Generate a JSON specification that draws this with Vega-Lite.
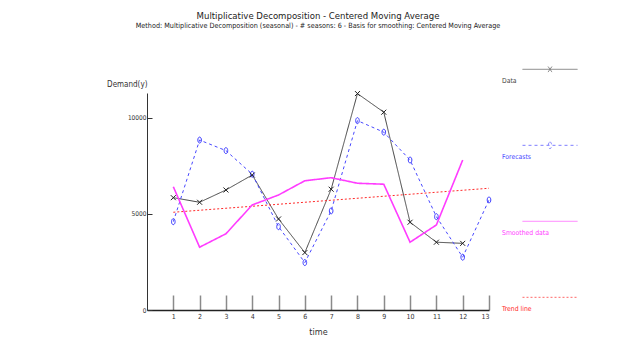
{
  "$schema": "https://vega.github.io/schema/vega-lite/v6.json",
  "autosize": "none",
  "padding": {"left": 147, "top": 93, "right": 135, "bottom": 30},
  "width": 342,
  "height": 217,
  "background": "white",
  "title": {
    "text": "Multiplicative Decomposition - Centered Moving Average",
    "subtitle": "Method: Multiplicative Decomposition (seasonal) - # seasons:  6 - Basis for smoothing: Centered Moving Average",
    "font": "'DejaVu Sans Condensed', sans-serif",
    "subtitleFont": "'DejaVu Sans Condensed', sans-serif",
    "fontSize": 9.5,
    "fontWeight": "normal",
    "subtitleFontSize": 7.2,
    "color": "#222222",
    "subtitleColor": "#222222",
    "anchor": "middle",
    "frame": "group",
    "dx": 0,
    "offset": 24,
    "subtitlePadding": 1
  },
  "config": {
    "view": {"stroke": null},
    "font": "'DejaVu Sans Condensed', sans-serif"
  },
  "datasets": {
    "series": [
      {"t": 1, "series": "Data", "value": 5850},
      {"t": 2, "series": "Data", "value": 5610},
      {"t": 3, "series": "Data", "value": 6250},
      {"t": 4, "series": "Data", "value": 7030},
      {"t": 5, "series": "Data", "value": 4740},
      {"t": 6, "series": "Data", "value": 2990},
      {"t": 7, "series": "Data", "value": 6290},
      {"t": 8, "series": "Data", "value": 11270},
      {"t": 9, "series": "Data", "value": 10300},
      {"t": 10, "series": "Data", "value": 4570},
      {"t": 11, "series": "Data", "value": 3530},
      {"t": 12, "series": "Data", "value": 3470},
      {"t": 1, "series": "Forecasts", "value": 4600},
      {"t": 2, "series": "Forecasts", "value": 8850},
      {"t": 3, "series": "Forecasts", "value": 8300},
      {"t": 4, "series": "Forecasts", "value": 7070},
      {"t": 5, "series": "Forecasts", "value": 4340},
      {"t": 6, "series": "Forecasts", "value": 2470},
      {"t": 7, "series": "Forecasts", "value": 5160},
      {"t": 8, "series": "Forecasts", "value": 9860},
      {"t": 9, "series": "Forecasts", "value": 9260},
      {"t": 10, "series": "Forecasts", "value": 7810},
      {"t": 11, "series": "Forecasts", "value": 4860},
      {"t": 12, "series": "Forecasts", "value": 2750},
      {"t": 13, "series": "Forecasts", "value": 5730},
      {"t": 1, "series": "Smoothed data", "value": 6420},
      {"t": 2, "series": "Smoothed data", "value": 3270},
      {"t": 3, "series": "Smoothed data", "value": 3970},
      {"t": 4, "series": "Smoothed data", "value": 5470},
      {"t": 5, "series": "Smoothed data", "value": 5990},
      {"t": 6, "series": "Smoothed data", "value": 6730},
      {"t": 7, "series": "Smoothed data", "value": 6890},
      {"t": 8, "series": "Smoothed data", "value": 6600},
      {"t": 9, "series": "Smoothed data", "value": 6550},
      {"t": 10, "series": "Smoothed data", "value": 3530},
      {"t": 11, "series": "Smoothed data", "value": 4430},
      {"t": 12, "series": "Smoothed data", "value": 7810},
      {"t": 1, "series": "Trend line", "value": 5090},
      {"t": 13, "series": "Trend line", "value": 6340}
    ]
  },
  "data": {"name": "series"},
  "encoding": {
    "x": {
      "field": "t", "type": "quantitative",
      "scale": {"domain": [0, 13], "nice": false, "zero": false},
      "axis": {
        "values": [1, 2, 3, 4, 5, 6, 7, 8, 9, 10, 11, 12, 13],
        "grid": false,
        "tickSize": -15,
        "tickColor": "#8a8a8a",
        "tickWidth": 1.5,
        "domainColor": "#222222",
        "domainWidth": 1.5,
        "labelFontSize": 7,
        "labelColor": "#333333",
        "labelPadding": 17,
        "title": "time",
        "titleFontSize": 9,
        "titleFontWeight": "normal",
        "titleColor": "#333333",
        "titlePadding": 8
      }
    },
    "y": {
      "field": "value", "type": "quantitative",
      "scale": {"domain": [0, 11300], "nice": false},
      "axis": {
        "values": [0, 5000, 10000],
        "format": "d",
        "grid": false,
        "tickSize": -5,
        "tickColor": "#333333",
        "domainColor": "#333333",
        "labelFontSize": 6.5,
        "labelColor": "#333333",
        "labelPadding": 6,
        "title": "Demand(y)",
        "titleAngle": 0,
        "titleX": 0,
        "titleY": -9,
        "titleAlign": "right",
        "titleBaseline": "middle",
        "titleFontSize": 8,
        "titleFontWeight": "normal",
        "titleColor": "#333333"
      }
    }
  },
  "layer": [
    {
      "transform": [{"filter": "datum.series !== 'Smoothed data'"}],
      "mark": {"type": "line", "strokeWidth": 1},
      "encoding": {
        "color": {
          "field": "series", "type": "nominal",
          "scale": {"domain": ["Data", "Forecasts", "Smoothed data", "Trend line"], "range": ["#444444", "#4848ff", "#ff3cff", "#ff2a2a"]},
          "legend": {
            "orient": "none",
            "legendX": 375,
            "legendY": -40,
            "direction": "vertical",
            "title": null,
            "padding": 0,
            "symbolSize": 3025,
            "symbolStrokeWidth": 1,
            "symbolFillColor": "transparent",
            "labelOffset": -76,
            "rowPadding": 44,
            "labelFontSize": 6.8,
            "labelColor": {"expr": "scale('color', datum.value)"}
          }
        },
        "strokeDash": {
          "field": "series", "type": "nominal",
          "scale": {"domain": ["Data", "Forecasts", "Smoothed data", "Trend line"], "range": [[1, 0], [3, 3], [1, 0], [2, 2]]}
        },
        "order": {"field": "t"}
      }
    },
    {
      "transform": [{"filter": "datum.series === 'Smoothed data'"}],
      "mark": {"type": "line", "strokeWidth": 1.6},
      "encoding": {
        "color": {"field": "series", "type": "nominal"},
        "strokeDash": {"field": "series", "type": "nominal"},
        "order": {"field": "t"}
      }
    },
    {
      "transform": [{"filter": "datum.series === 'Forecasts'"}],
      "mark": {"type": "point", "filled": false, "shape": "M0,-1A0.6,1 0 1,1 0,1A0.6,1 0 1,1 0,-1Z", "size": 36, "stroke": "#3c3cff", "strokeWidth": 1, "opacity": 1}
    },
    {
      "transform": [{"filter": "datum.series === 'Data'"}],
      "mark": {"type": "point", "filled": false, "shape": "M-1,-1L1,1M-1,1L1,-1", "size": 25, "stroke": "#222222", "strokeWidth": 1, "opacity": 1}
    },
    {
      "transform": [{"filter": "false"}],
      "mark": {"type": "point", "filled": false, "size": 3025},
      "encoding": {
        "color": {"field": "series", "type": "nominal"},
        "shape": {
          "field": "series", "type": "nominal",
          "scale": {
            "domain": ["Data", "Forecasts", "Smoothed data", "Trend line"],
            "range": [
              "M-1,-0.425H1M-0.07,-0.525L0.07,-0.325M-0.07,-0.325L0.07,-0.525",
              "M-1,-0.425H1M0,-0.545A0.06,0.12 0 1,1 0,-0.305A0.06,0.12 0 1,1 0,-0.545Z",
              "M-1,-0.425H1",
              "M-1,-0.425H1"
            ]
          }
        }
      }
    }
  ]
}
